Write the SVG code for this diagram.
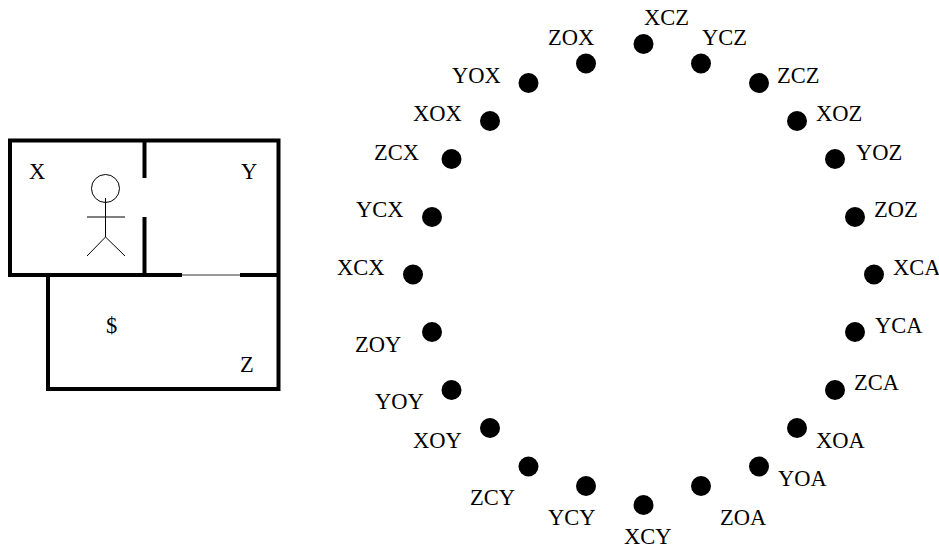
<svg xmlns="http://www.w3.org/2000/svg" width="939" height="548" viewBox="0 0 939 548">
<style>
text{font-family:"Liberation Serif","Times New Roman",serif;font-size:22.5px;fill:#000}
.w{fill:none;stroke:#000;stroke-width:4}
.t{fill:none;stroke:#000;stroke-width:1}
.d{fill:#000}
</style>
<rect width="939" height="548" fill="#fff"/>
<g id="plan">
<path class="w" d="M144.500 178V140.500H10V275H182M144.500 140.500H278.500V275H240M144.500 217V275M48 275V389H278.500V275"/>
<path d="M182 275H240" fill="none" stroke="#777" stroke-width="1.500"/>
<circle class="t" cx="105.500" cy="188.500" r="14"/>
<path class="t" d="M105.500 198V237M87 217H125M105.500 237L87 256M105.500 237L125 256"/>
<text x="29" y="179">X</text><text x="241" y="179">Y</text><text x="106" y="333">$</text><text x="240" y="372">Z</text>
</g>
<g id="states">
<circle class="d" cx="643.500" cy="44" r="10"/><text x="644" y="25">XCZ</text>
<circle class="d" cx="701" cy="63.500" r="10"/><text x="702" y="45">YCZ</text>
<circle class="d" cx="759" cy="83" r="10"/><text x="777" y="83">ZCZ</text>
<circle class="d" cx="797" cy="121" r="10"/><text x="816" y="121">XOZ</text>
<circle class="d" cx="835" cy="159" r="10"/><text x="856" y="160">YOZ</text>
<circle class="d" cx="855" cy="217" r="10"/><text x="874" y="217">ZOZ</text>
<circle class="d" cx="874" cy="274.500" r="10"/><text x="893" y="275">XCA</text>
<circle class="d" cx="855" cy="332" r="10"/><text x="875" y="333">YCA</text>
<circle class="d" cx="835" cy="390" r="10"/><text x="854" y="390">ZCA</text>
<circle class="d" cx="797" cy="428" r="10"/><text x="816" y="448">XOA</text>
<circle class="d" cx="759" cy="466.500" r="10"/><text x="778" y="486">YOA</text>
<circle class="d" cx="701" cy="486" r="10"/><text x="720" y="525">ZOA</text>
<circle class="d" cx="643.500" cy="505" r="10"/><text x="624" y="544">XCY</text>
<circle class="d" cx="586" cy="486" r="10"/><text x="548" y="525">YCY</text>
<circle class="d" cx="528.500" cy="466.500" r="10"/><text x="470" y="505">ZCY</text>
<circle class="d" cx="490" cy="428" r="10"/><text x="413" y="448">XOY</text>
<circle class="d" cx="451.500" cy="390" r="10"/><text x="375" y="409">YOY</text>
<circle class="d" cx="432" cy="332" r="10"/><text x="355" y="352">ZOY</text>
<circle class="d" cx="413" cy="274.500" r="10"/><text x="337" y="275">XCX</text>
<circle class="d" cx="432" cy="217" r="10"/><text x="356" y="217">YCX</text>
<circle class="d" cx="451.500" cy="159" r="10"/><text x="374" y="160">ZCX</text>
<circle class="d" cx="490" cy="121" r="10"/><text x="413" y="121">XOX</text>
<circle class="d" cx="528.500" cy="83" r="10"/><text x="452" y="83">YOX</text>
<circle class="d" cx="586" cy="63.500" r="10"/><text x="548" y="45">ZOX</text>
</g>
</svg>
